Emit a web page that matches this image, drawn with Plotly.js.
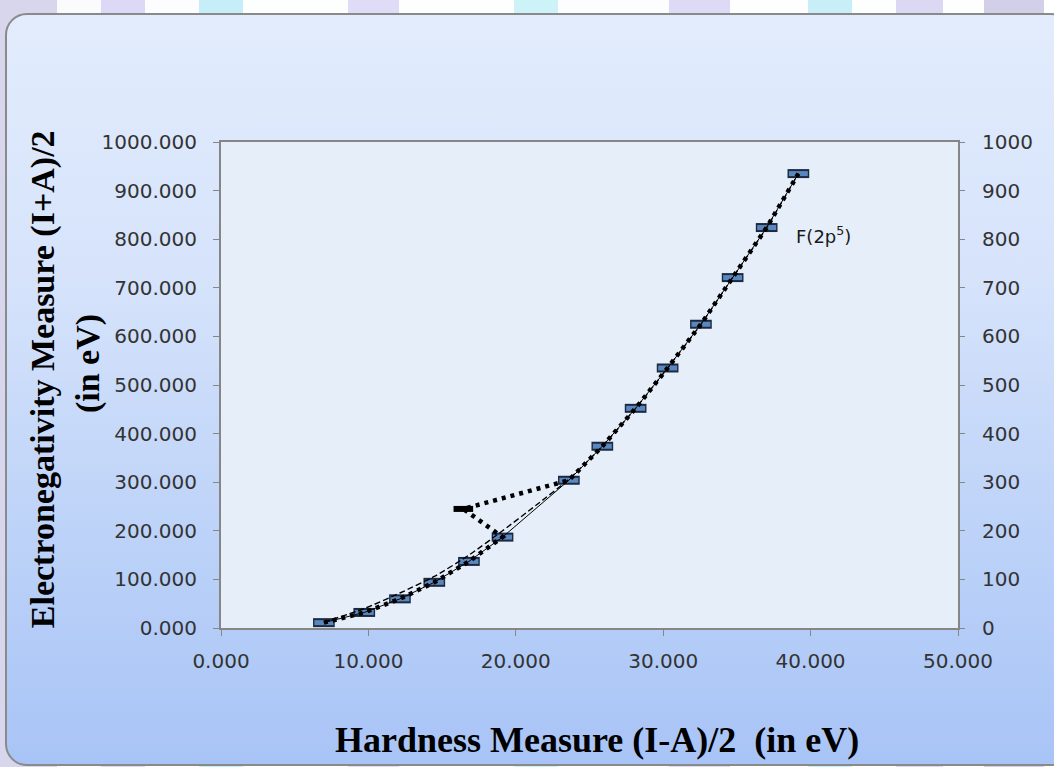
<!DOCTYPE html>
<html>
<head>
<meta charset="utf-8">
<script src="https://cdn.plot.ly/plotly-3.0.1.min.js"></script>
<style>
  html, body { margin:0; padding:0; width:1054px; height:767px; overflow:hidden; }
  body {
    background: linear-gradient(to right,
      #d8d6ec 0px, #d8d6ec 57px, #fbfbfe 57px, #fbfbfe 101px,
      #dcd8f5 101px, #dcd8f5 145px, #fdfdff 145px, #fdfdff 199px,
      #c6eef8 199px, #c6eef8 243px, #fdfefe 243px, #fdfefe 348px,
      #e0dcf8 348px, #e0dcf8 399px, #fefefe 399px, #fefefe 514px,
      #cdf3f8 514px, #cdf3f8 558px, #fdfcff 558px, #fdfcff 669px,
      #dedaf5 669px, #dedaf5 730px, #fefefe 730px, #fefefe 808px,
      #c8eef8 808px, #c8eef8 852px, #fdfefe 852px, #fdfefe 896px,
      #dcd8f4 896px, #dcd8f4 943px, #fefefe 943px, #fefefe 984px,
      #d2cfe8 984px, #d2cfe8 1044px, #ffffff 1044px);
    position:relative;
  }
  #frame {
    position:absolute; left:5px; top:13px; width:1068px; height:753px;
    border:2px solid #8a8a8a; border-radius:22px; box-sizing:border-box;
    background: linear-gradient(to bottom, #e2ecfc 0%, #d6e3fb 35%, #bcd2f8 70%, #a8c4f6 100%);
  }
  #chart { position:absolute; left:0; top:0; width:1054px; height:767px; }
</style>
</head>
<body>
<div id="frame"></div>
<div id="chart"></div>
<script>
// Hardness (I-A)/2 values of the regular points, in eV
const hardness = [6.98, 9.72, 12.14, 14.47, 16.82, 19.10, 23.60, 25.87, 28.13, 30.30, 32.56, 34.71, 37.02, 39.17];
// Electronegativity (I+A)/2 values of the regular points, in eV
const electroneg = [11, 32, 60, 94, 137, 187, 304, 374, 452, 535, 625, 721, 824, 935];
// The deviating point (drawn in black)
const outlierX = [16.44];
const outlierY = [245];
// Dashed trend line
const trendX = [6.98, 9.72, 12.14, 14.47, 16.82, 19.10, 21.35, 23.60, 25.87, 28.13, 30.30, 32.56, 34.71, 37.02, 39.17];
const trendY = [12, 40, 72, 106, 150, 200, 252, 306, 374, 452, 535, 625, 721, 824, 935];
// Axis tick values
const xTicks = [0, 10, 20, 30, 40, 50];
const yTicks = [0, 100, 200, 300, 400, 500, 600, 700, 800, 900, 1000];
const seriesLabel = "F(2p<sup>5</sup>)";

// dotted series passes through the outlier between the 6th and 7th point
const dottedX = hardness.slice(0, 6).concat(outlierX, hardness.slice(6));
const dottedY = electroneg.slice(0, 6).concat(outlierY, electroneg.slice(6));

const traces = [
  { x: hardness, y: electroneg, mode: 'markers', hoverinfo: 'skip',
    marker: { symbol: 'line-ew', size: 15.5, line: { width: 9, color: '#1c2a40' } } },
  { x: hardness, y: electroneg, mode: 'markers', hoverinfo: 'skip',
    marker: { symbol: 'line-ew', size: 13.5, line: { width: 5, color: '#5a87bf' } } },
  { x: outlierX, y: outlierY, mode: 'markers', hoverinfo: 'skip',
    marker: { symbol: 'line-ew', size: 14, line: { width: 6, color: '#000000' } } },
  { x: hardness, y: electroneg, mode: 'lines', hoverinfo: 'skip',
    line: { color: '#000000', width: 1 } },
  { x: trendX, y: trendY, mode: 'lines', hoverinfo: 'skip',
    line: { color: '#000000', width: 1.4, dash: '6px,3px', shape: 'spline', smoothing: 0.6 } },
  { x: dottedX, y: dottedY, mode: 'lines', hoverinfo: 'skip',
    line: { color: '#000000', width: 4.5, dash: '4px,5px' } },
  { x: [], y: [], yaxis: 'y2', mode: 'lines', hoverinfo: 'skip' }
];

const tickFont = { family: 'DejaVu Sans', size: 20, color: '#333333' };
const titleFont = { family: 'Liberation Serif', size: 36, color: '#000000', weight: 700 };

const layout = {
  width: 1054, height: 767,
  margin: { l: 221, r: 96, t: 142, b: 139, pad: 0 },
  paper_bgcolor: 'rgba(0,0,0,0)',
  plot_bgcolor: '#e6eff9',
  showlegend: false,
  xaxis: {
    range: [0, 50], tickvals: xTicks, tickformat: '.3f',
    showgrid: false, zeroline: false,
    showline: true, mirror: true, linecolor: '#868686', linewidth: 2,
    ticks: 'outside', ticklen: 6, tickcolor: '#868686', tickwidth: 1,
    tickfont: tickFont, ticklabelstandoff: 8
  },
  yaxis: {
    range: [0, 1000], tickvals: yTicks, tickformat: '.3f',
    showgrid: false, zeroline: false,
    showline: true, mirror: true, linecolor: '#868686', linewidth: 2,
    ticks: 'outside', ticklen: 6, tickcolor: '#868686', tickwidth: 1,
    tickfont: tickFont, ticklabelstandoff: 12
  },
  yaxis2: {
    range: [0, 1000], tickvals: yTicks, tickformat: 'd',
    overlaying: 'y', side: 'right',
    showgrid: false, zeroline: false, showline: false,
    ticks: 'outside', ticklen: 6, tickcolor: '#868686', tickwidth: 1,
    tickfont: tickFont, ticklabelstandoff: 13
  },
  annotations: [
    { text: 'Electronegativity Measure (I+A)/2', xref: 'paper', yref: 'paper',
      x: -0.2415, y: 0.512, xanchor: 'center', yanchor: 'middle', textangle: -90,
      showarrow: false, font: { family: 'Liberation Serif', size: 34, color: '#000', weight: 700 } },
    { text: '(in eV)', xref: 'paper', yref: 'paper',
      x: -0.1805, y: 0.545, xanchor: 'center', yanchor: 'middle', textangle: -90,
      showarrow: false, font: { family: 'Liberation Serif', size: 34, color: '#000', weight: 700 } },
    { text: 'Hardness Measure (I-A)/2 &nbsp;(in eV)', xref: 'paper', yref: 'paper',
      x: 0.5095, y: -0.2305, xanchor: 'center', yanchor: 'middle',
      showarrow: false, font: titleFont },
    { text: seriesLabel, xref: 'x', yref: 'y', x: 40.9, y: 808,
      xanchor: 'center', yanchor: 'middle', showarrow: false,
      font: { family: 'DejaVu Sans', size: 18, color: '#1a1a1a' } }
  ]
};

Plotly.newPlot('chart', traces, layout, { displayModeBar: false, staticPlot: true });
</script>
</body>
</html>
